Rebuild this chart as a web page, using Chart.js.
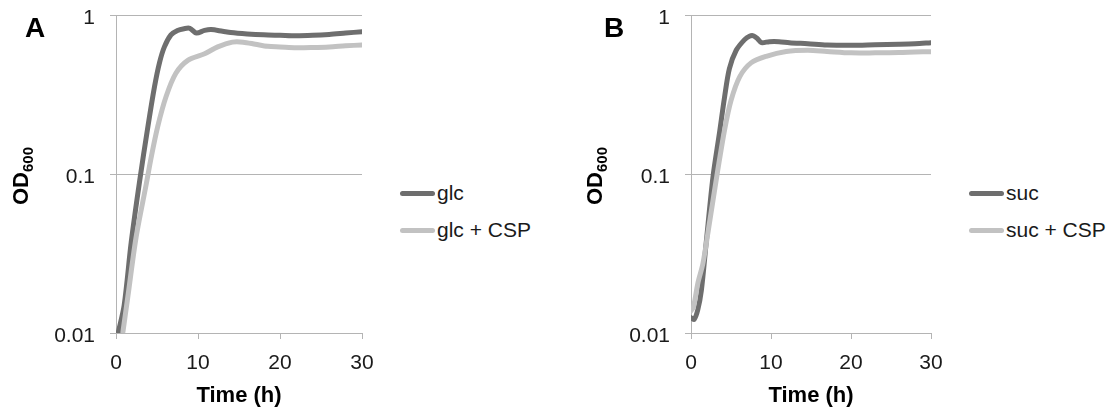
<!DOCTYPE html>
<html>
<head>
<meta charset="utf-8">
<script src="https://cdn.jsdelivr.net/npm/chart.js@4.4.0/dist/chart.umd.min.js"></script>
<style>
body{margin:0;background:#fff;width:1115px;height:409px;overflow:hidden;font-family:"Liberation Sans",Arial,sans-serif;}
.wrap{position:absolute;top:0;left:0;width:1115px;height:409px;}
canvas{position:absolute;top:0;}
.panel{position:absolute;font-weight:bold;font-size:28px;color:#000;}
.ylab{position:absolute;font-weight:bold;font-size:22px;color:#000;white-space:nowrap;transform:translate(-50%,-50%) rotate(-90deg);}
.ylab sub{font-size:15px;vertical-align:-5px;}
.leg{position:absolute;font-size:21px;color:#1a1a1a;}
.leg div{height:24px;display:flex;align-items:center;margin-bottom:13px;}
.leg span.sw{display:inline-block;width:35px;height:5px;border-radius:3px;margin-right:2px;}
</style>
</head>
<body>
<div class="wrap">
<canvas id="chartA" width="380" height="409" style="left:0"></canvas>
<canvas id="chartB" width="375" height="409" style="left:575px"></canvas>
<div class="panel" style="left:25px;top:12px">A</div>
<div class="panel" style="left:604px;top:12px">B</div>
<div class="ylab" style="left:22px;top:176px">OD<sub>600</sub></div>
<div class="ylab" style="left:596px;top:176px">OD<sub>600</sub></div>
<div class="leg" id="legA" style="left:400px;top:181px"></div>
<div class="leg" id="legB" style="left:969px;top:181px"></div>
</div>
<script>
// growth curves, time in hours, OD600 on log scale
const yTicks=[0.01,0.1,1];
const xTicks=[0,10,20,30];

const tGlc=[0.3,1.0,1.85,2.85,3.9,4.7,5.3,5.9,6.7,7.5,8.3,9.0,9.8,10.8,11.6,13,14,16,18,20,22,24,26,28,30];
const glc=[0.0102,0.015,0.037,0.088,0.2,0.355,0.5,0.63,0.75,0.8,0.82,0.825,0.77,0.8,0.81,0.79,0.775,0.76,0.75,0.745,0.74,0.745,0.755,0.77,0.785];
const tGlcCsp=[0.85,1.45,2.45,3.7,4.3,5.1,6.1,7.3,8.8,10.8,12.4,14.2,15.5,17,18.5,20,22,24,26,28,30];
const glcCsp=[0.0102,0.017,0.04,0.087,0.128,0.2,0.306,0.43,0.52,0.57,0.63,0.675,0.675,0.655,0.635,0.63,0.623,0.625,0.63,0.64,0.648];

const tSuc=[0,0.4,0.85,1.3,1.9,2.75,3.55,4.2,4.8,5.65,6.7,7.3,7.8,8.3,8.8,9.8,11,12.3,14.6,17,20,23,26,28,30];
const suc=[0.0125,0.0122,0.014,0.0186,0.037,0.096,0.18,0.306,0.46,0.6,0.7,0.735,0.74,0.71,0.67,0.68,0.68,0.67,0.66,0.648,0.645,0.65,0.655,0.66,0.67];
const tSucCsp=[0,0.3,0.85,1.5,2.3,3.35,4.2,5.0,6.1,7.5,9.4,11.9,14.6,17,20,23,26,28,30];
const sucCsp=[0.0138,0.0145,0.0205,0.0275,0.049,0.106,0.19,0.29,0.41,0.5,0.55,0.59,0.6,0.59,0.578,0.578,0.58,0.585,0.588];

const dark="#6e6e6e",light="#c2c2c2",gridCol="#b4b4b4";
const fontFam='"Liberation Sans", Arial, sans-serif';

function pts(t,v){return t.map((x,i)=>({x:x,y:v[i]}));}

function series(label,t,v,color,order){
return {label:label,data:pts(t,v),borderColor:color,backgroundColor:color,borderWidth:5,
pointRadius:0,tension:0.3,borderJoinStyle:'round',borderCapStyle:'round',order:order};
}

function makeChart(id,datasets,padRight){
return new Chart(document.getElementById(id),{
type:'line',
data:{datasets:datasets},
options:{
responsive:false,animation:false,devicePixelRatio:1,
layout:{padding:{top:15,right:padRight,left:0,bottom:0}},
plugins:{legend:{display:false},tooltip:{enabled:false}},
scales:{
x:{type:'linear',min:0,max:30,
afterBuildTicks:s=>{s.ticks=xTicks.map(v=>({value:v}));},
afterFit:s=>{s.height=76;s.paddingLeft=0;s.paddingRight=0;},
grid:{drawOnChartArea:false,tickLength:6,color:gridCol},
border:{color:gridCol},
ticks:{font:{family:fontFam,size:21},color:'#1a1a1a',padding:12,maxRotation:0},
title:{display:true,text:'Time (h)',font:{family:fontFam,size:22,weight:'bold'},color:'#000',padding:{top:0,bottom:0}}
},
y:{type:'logarithmic',min:0.01,max:1,
afterBuildTicks:s=>{s.ticks=yTicks.map(v=>({value:v}));},
afterFit:s=>{s.width=116;s.paddingTop=0;s.paddingBottom=0;},
grid:{tickLength:6,color:gridCol},
border:{color:gridCol},
ticks:{font:{family:fontFam,size:21},color:'#1a1a1a',padding:15,labelOffset:3,callback:v=>String(v)}
}
}
}
});
}

function legend(id,chart){
const el=document.getElementById(id);
chart.data.datasets.forEach(d=>{
const row=document.createElement('div');
const sw=document.createElement('span');
sw.className='sw';sw.style.background=d.borderColor;
row.appendChild(sw);
row.appendChild(document.createTextNode(d.label));
el.appendChild(row);
});
}

const chartA=makeChart('chartA',[
series('glc',tGlc,glc,dark,1),
series('glc + CSP',tGlcCsp,glcCsp,light,0)
],18);
const chartB=makeChart('chartB',[
series('suc',tSuc,suc,dark,1),
series('suc + CSP',tSucCsp,sucCsp,light,0)
],19);
legend('legA',chartA);
legend('legB',chartB);
</script>
</body>
</html>
